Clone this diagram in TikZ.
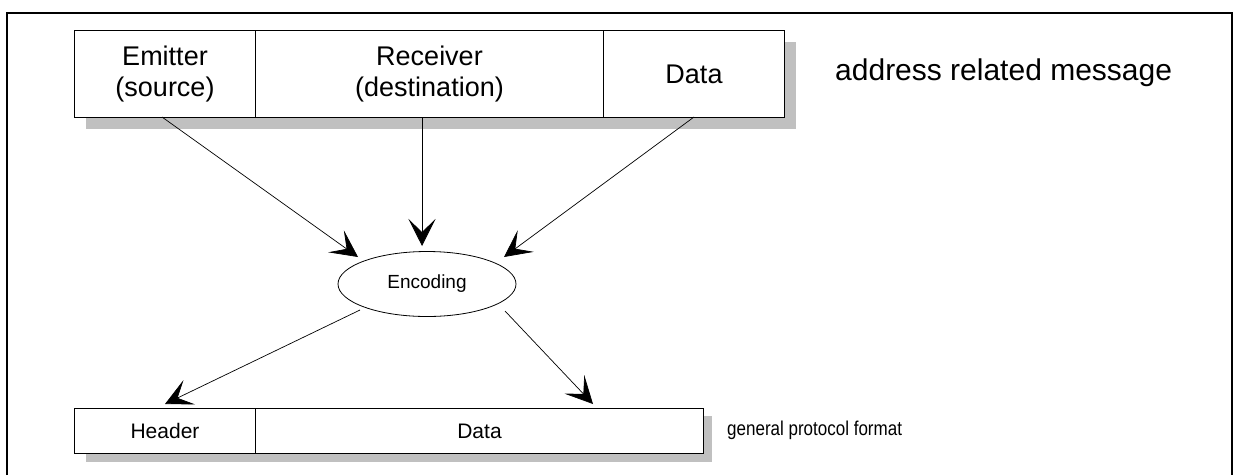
\documentclass[tikz,border=0pt]{standalone}
\usepackage{fontspec}
\setmainfont{Liberation Sans}
\newfontfamily\narrowfont[FakeStretch=0.85]{Liberation Sans}
\usetikzlibrary{arrows.meta,shapes.geometric}
\definecolor{shadowgray}{RGB}{192,192,192}
\begin{document}
\begin{tikzpicture}[x=1pt,y=-1pt,
  cell/.style={draw=black,line width=1pt,fill=white,minimum height=87pt,inner sep=0pt,anchor=north west,align=center,font=\fontsize{27}{31}\selectfont},
  lowcell/.style={draw=black,line width=1pt,fill=white,minimum height=45pt,inner sep=0pt,anchor=north west,font=\fontsize{21}{24}\selectfont},
  shadowbox/.style={fill=shadowgray,draw=none},
  flow/.style={line width=0.7pt,-{Stealth[length=27pt,width=27pt,inset=13pt]}},
  caption/.style={inner sep=0pt,anchor=west}]
\useasboundingbox (0,0) rectangle (1234,475);
% outer frame (open at bottom)
\draw[line width=2pt] (7,475) -- (7,13) -- (1232,13) -- (1232,475);
% top record
\fill[shadowbox] (86,42) rectangle (796,129);
\node[cell,minimum width=181pt] (emit) at (74,30) {Emitter\\(source)};
\node[cell,minimum width=348pt] (recv) at (255,30) {Receiver\\(destination)};
\node[cell,minimum width=181pt] (data) at (603,30) {Data};
\node[caption,font=\fontsize{30}{34}\selectfont] (addr) at (835,73) {address related message};
% encoding
\node[draw=black,line width=0.8pt,ellipse,minimum width=178pt,minimum height=65pt,inner sep=0pt,font=\fontsize{19}{22}\selectfont] (enc) at (427,284) {Encoding};
\coordinate (t1) at (358,257);
\coordinate (t2) at (422,246);
\coordinate (t3) at (504,257);
\coordinate (s1) at (162,117);
\coordinate (s2) at (422,117);
\coordinate (s3) at (694,117);
\draw[flow] (s1) -- (t1);
\draw[flow] (s2) -- (t2);
\draw[flow] (s3) -- (t3);
% bottom record
\fill[shadowbox] (86,416) rectangle (712,462);
\node[lowcell,minimum width=181pt] (head) at (74,408) {Header};
\node[lowcell,minimum width=448pt] (pdata) at (255,408) {Data};
\node[caption,font=\narrowfont\fontsize{20}{23}\selectfont] (gen) at (727,430) {general protocol format};
\coordinate (b1) at (360,310);
\coordinate (b2) at (505,311);
\coordinate (h1) at (165,404);
\coordinate (h2) at (593,404);
\draw[flow] (b1) -- (h1);
\draw[flow] (b2) -- (h2);
\end{tikzpicture}
\end{document}
